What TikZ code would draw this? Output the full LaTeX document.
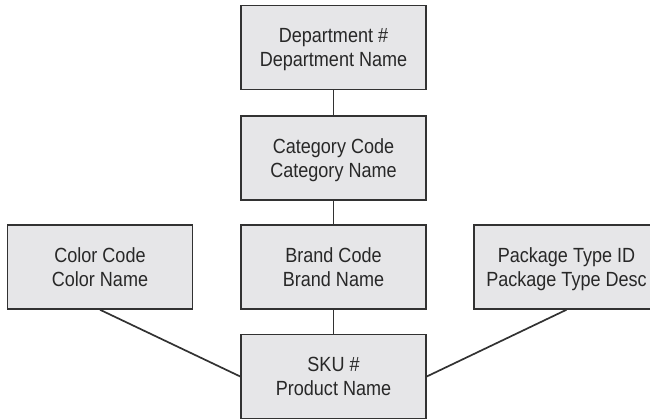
\documentclass[tikz,border=0pt]{standalone}
\usepackage{fontspec}
\setmainfont{Liberation Sans}[FakeStretch=0.88]
\definecolor{boxfill}{RGB}{230,230,232}
\definecolor{boxline}{RGB}{50,50,50}
\definecolor{txtcol}{RGB}{40,40,40}
\begin{document}
\begin{tikzpicture}[x=1pt,y=-1pt,
  entity/.style={draw=boxline, line width=1.5pt, fill=boxfill, minimum width=185pt, minimum height=84pt,
    inner sep=0pt, align=center, text=txtcol, text depth=0pt,
    font=\fontsize{20.5pt}{23.5pt}\selectfont},
  link/.style={draw=boxline, line width=1.7pt}]
\useasboundingbox (0,0) rectangle (650,419);
\node[entity] (dept) at (333.5,47.5) {Department \#\\Department Name};
\node[entity] (cat) at (333.5,158) {Category Code\\Category Name};
\node[entity] (brand) at (333.5,267) {Brand Code\\Brand Name};
\node[entity] (sku) at (333.5,376.5) {SKU \#\\Product Name};
\node[entity] (color) at (100,267) {Color Code\\Color Name};
\node[entity] (pkg) at (566.5,267) {Package Type ID\\Package Type Desc};
\draw[link] (dept) -- (cat);
\draw[link] (cat) -- (brand);
\draw[link] (brand) -- (sku);
\draw[link] (color.south) -- (sku.west);
\draw[link] (pkg.south) -- (sku.east);
\end{tikzpicture}
\end{document}
